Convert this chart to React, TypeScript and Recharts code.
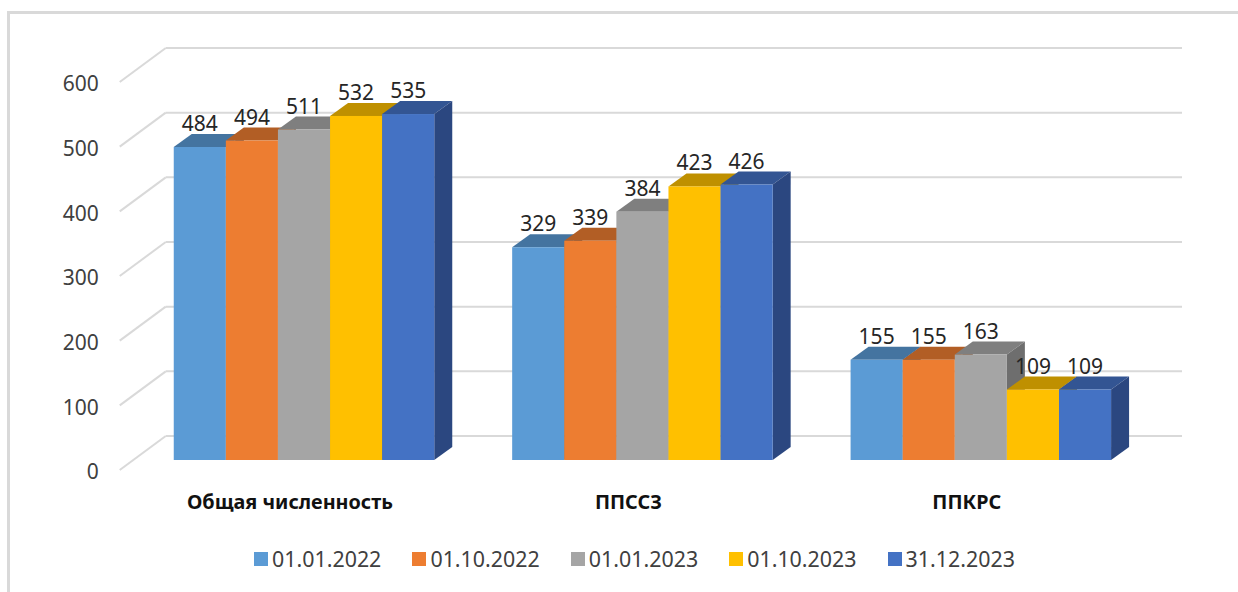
import { BarChart, Bar, XAxis, YAxis, CartesianGrid, Legend, LabelList } from 'recharts'

const CATEGORIES = ['Общая численность', 'ППССЗ', 'ППКРС']
const SERIES = [
  { key: 'd1', label: '01.01.2022', color: '#5b9bd5', top: '#4474a0', side: '#375d80', values: [484, 329, 155] },
  { key: 'd2', label: '01.10.2022', color: '#ed7d31', top: '#b25e25', side: '#8e4b1d', values: [494, 339, 155] },
  { key: 'd3', label: '01.01.2023', color: '#a5a5a5', top: '#7f7f7f', side: '#6e6e6e', values: [511, 384, 163] },
  { key: 'd4', label: '01.10.2023', color: '#ffc000', top: '#bf9000', side: '#997300', values: [532, 423, 109] },
  { key: 'd5', label: '31.12.2023', color: '#4472c4', top: '#335593', side: '#2b4780', values: [535, 426, 109] },
]
const Y_TICKS = [0, 100, 200, 300, 400, 500, 600]

const data = CATEGORIES.map((name, i) => {
  const row: Record<string, string | number> = { name }
  SERIES.forEach((s) => {
    row[s.key] = s.values[i]
  })
  return row
})

const FONT = '"Noto Sans", sans-serif'
const DEPTH_X = 18
const DEPTH_Y = 13

// front face plus the top and side faces, to fake the 3D look
function Bar3D(props: any, top: string, side: string, color: string) {
  const { x, y, width, height } = props
  const r = x + width
  const b = y + height
  return (
    <g>
      <polygon points={`${x},${y} ${x + DEPTH_X},${y - DEPTH_Y} ${r + DEPTH_X},${y - DEPTH_Y} ${r},${y}`} fill={top} />
      <polygon points={`${r},${y} ${r + DEPTH_X},${y - DEPTH_Y} ${r + DEPTH_X},${b - DEPTH_Y} ${r},${b}`} fill={side} />
      <rect x={x} y={y} width={width} height={height} fill={color} />
    </g>
  )
}

// back wall line and the diagonal on the left wall
function GridLine(props: any) {
  const { x1, x2, y1, index } = props
  return (
    <g key={`grid-${index}`}>
      <line x1={x1 + 31} y1={y1 - 24} x2={x2 + 32} y2={y1 - 24} stroke="#d9d9d9" strokeWidth={2} />
      <line x1={x1 - 15} y1={y1 + 10} x2={x1 + 31} y2={y1 - 24} stroke="#d9d9d9" strokeWidth={2} />
    </g>
  )
}

function CategoryTick({ x, y, payload }: any) {
  return (
    <text x={x - 14} y={y + 41} textAnchor="middle" fontFamily={FONT} fontSize={19.8} fontWeight={700} fill="#111">
      {payload.value}
    </text>
  )
}

function LegendRow() {
  return (
    <div style={{ position: 'absolute', left: 254, top: 546, display: 'flex', fontFamily: FONT }}>
      {SERIES.map((s) => (
        <div key={s.key} style={{ width: 158.4, display: 'flex', alignItems: 'center', height: 26 }}>
          <span style={{ width: 14, height: 14, background: s.color, marginRight: 4 }} />
          <span style={{ fontSize: 21.4, color: '#404040', lineHeight: '26px' }}>{s.label}</span>
        </div>
      ))}
    </div>
  )
}

export default function App() {
  return (
    <div style={{ position: 'absolute', left: 0, top: 0, width: 1238, height: 592, background: '#fff', overflow: 'hidden' }}>
      <div
        style={{
          position: 'absolute',
          left: 7,
          top: 11,
          width: 1231,
          height: 581,
          borderLeft: '3px solid #d9d9d9',
          borderTop: '3px solid #d9d9d9',
        }}
      />
      <div style={{ position: 'absolute', left: 0, top: 0 }}>
        <BarChart
          width={1238}
          height={592}
          data={data}
          margin={{ left: 74.75, right: 88, top: 72, bottom: 72 }}
          barCategoryGap={38.5}
          barGap={0}
          barSize={52.1}
        >
          <CartesianGrid vertical={false} horizontal={GridLine} />
          <XAxis dataKey="name" axisLine={false} tickLine={false} tick={CategoryTick} height={60} interval={0} />
          <YAxis
            domain={[0, 600]}
            ticks={Y_TICKS}
            width={60}
            axisLine={false}
            tickLine={false}
            dy={12}
            tickMargin={30}
            tick={{ fill: '#404040', fontSize: 21, fontFamily: FONT }}
          />
          <Legend content={() => <LegendRow />} wrapperStyle={{ position: 'absolute', left: 0, top: 0, width: 0, height: 0 }} />
          {SERIES.map((s) => (
            <Bar
              key={s.key}
              dataKey={s.key}
              name={s.label}
              fill={s.color}
              isAnimationActive={false}
              shape={(p: any) => Bar3D(p, s.top, s.side, s.color)}
            >
              <LabelList
                dataKey={s.key}
                position="top"
                offset={16}
                fill="#262626"
                fontSize={21}
                fontFamily={FONT}
              />
            </Bar>
          ))}
        </BarChart>
      </div>
    </div>
  )
}
